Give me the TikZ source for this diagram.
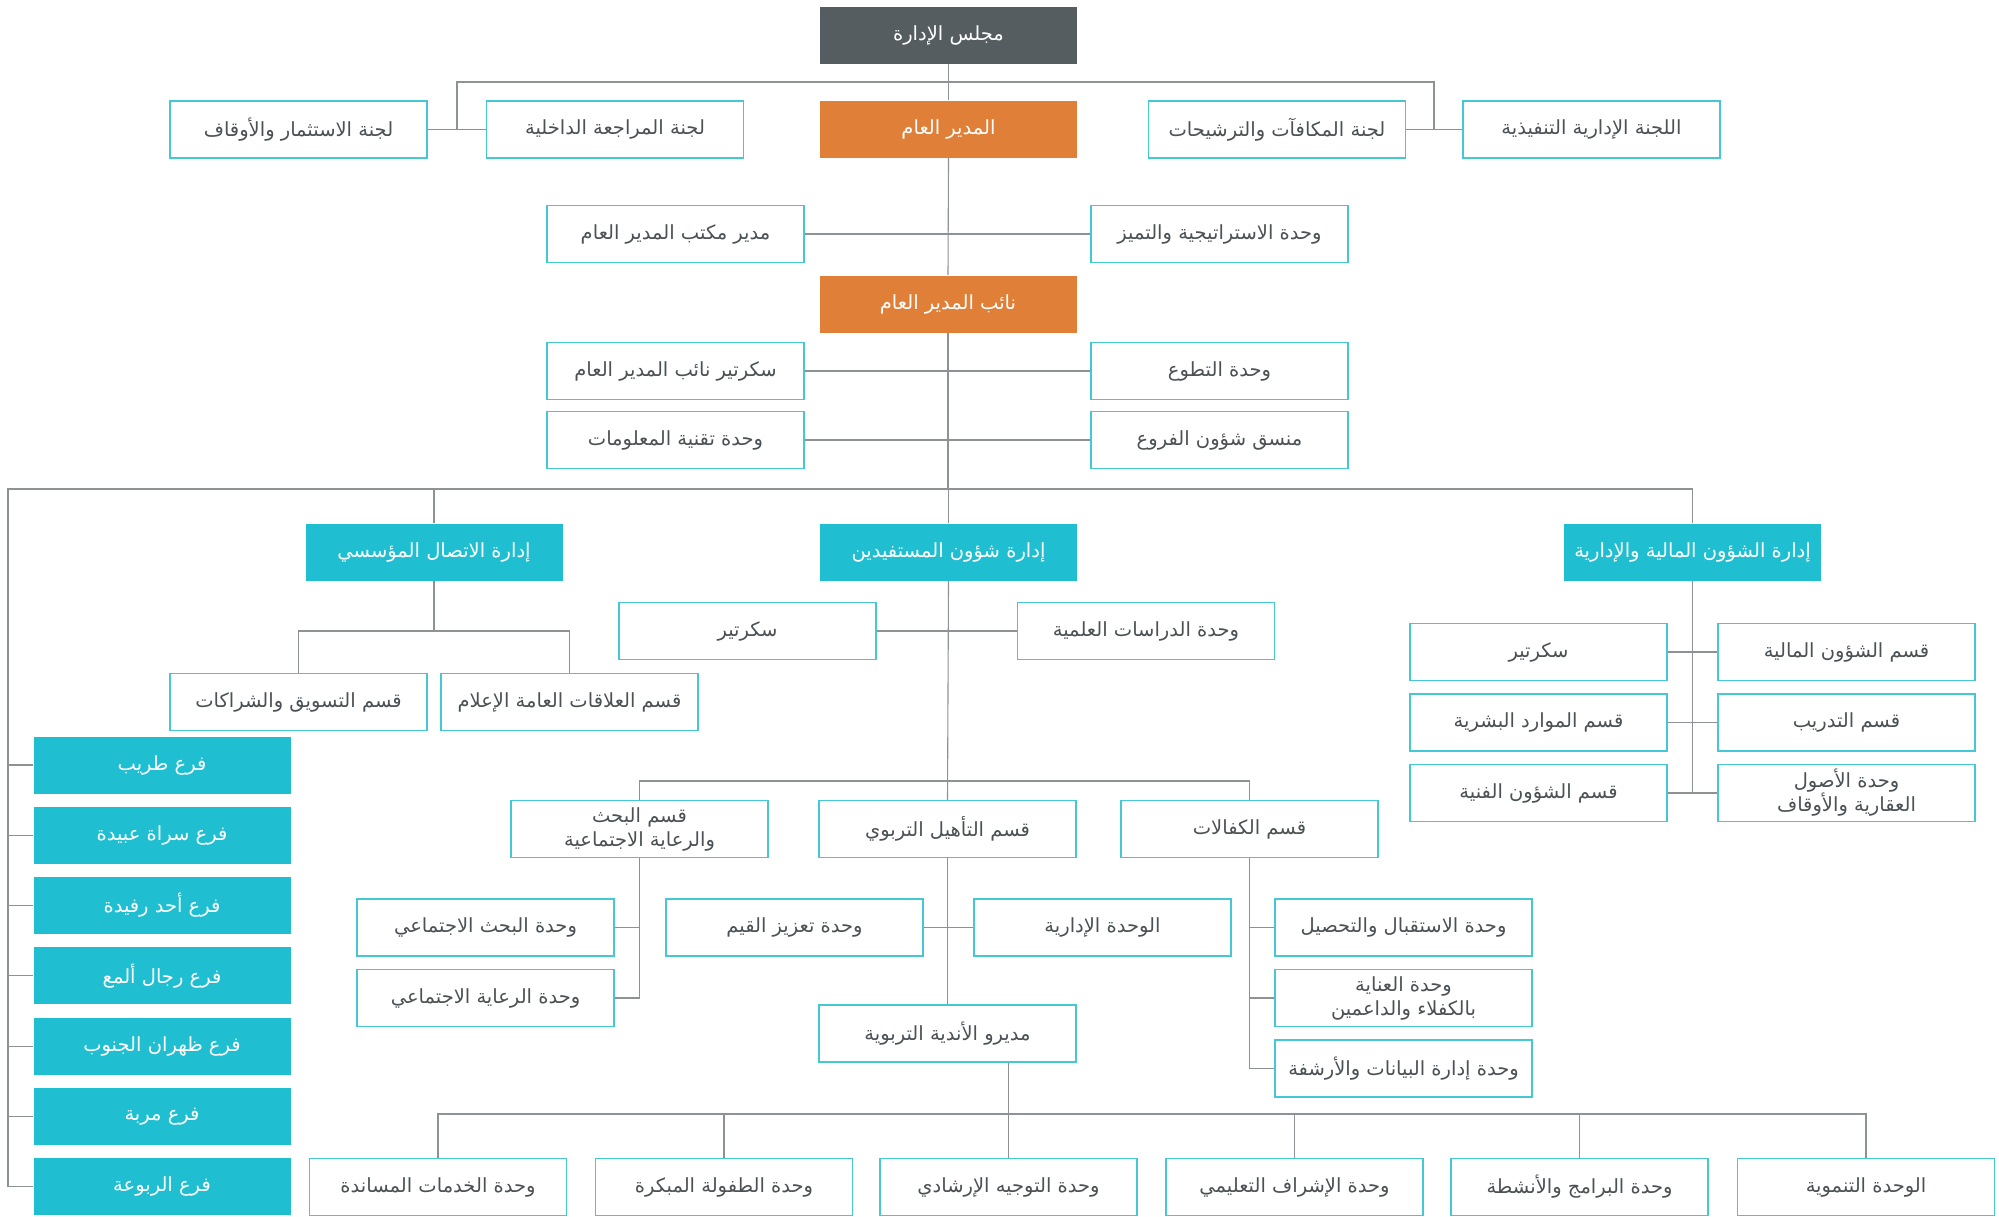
\documentclass[tikz,border=0pt]{standalone}
\usepackage{fontspec}
\usepackage{xcolor}
\usetikzlibrary{positioning,calc}
\TeXXeTstate=1
\newfontfamily\arabicfont[Script=Arabic]{DejaVu Sans}
\newcommand{\ar}[1]{{\arabicfont\beginR #1\endR}}
\definecolor{boardcolor}{HTML}{555D60}
\definecolor{gmcolor}{HTML}{E07F38}
\definecolor{deptcolor}{HTML}{1FBFD1}
\definecolor{unitborder}{HTML}{45C7D6}
\definecolor{textcolor}{HTML}{4B5154}
\definecolor{linkcolor}{HTML}{8C9295}

\begin{document}
\begin{tikzpicture}[x=1pt,y=-1pt,
    unit/.style={draw=unitborder, line width=1.3pt, fill=white, minimum width=257pt,
        minimum height=57pt, inner sep=2pt, text=textcolor,
        font=\fontsize{19.5}{24}\selectfont, align=center},
    head/.style={unit, draw=none, fill=#1, text=white},
    link/.style={draw=linkcolor, line width=1.1pt}]
    \useasboundingbox (0,0) rectangle (1999,1216);

    % Board and general manager
    \node[head=boardcolor] (board) at (948.5,35) {\ar{مجلس الإدارة}};
    \node[head=gmcolor] (gm) at (948.5,129) {\ar{المدير العام}};
    \node[unit] (inv) at (298.5,129.5) {\ar{لجنة الاستثمار والأوقاف}};
    \node[unit] (audit) at (615,129.5) {\ar{لجنة المراجعة الداخلية}};
    \node[unit] (rem) at (1277,129.5) {\ar{لجنة المكافآت والترشيحات}};
    \node[unit] (exec) at (1591.5,129.5) {\ar{اللجنة الإدارية التنفيذية}};
    \node[unit] (office) at (675.5,234) {\ar{مدير مكتب المدير العام}};
    \node[unit] (strategy) at (1219.5,234) {\ar{وحدة الاستراتيجية والتميز}};

    % Deputy
    \node[head=gmcolor] (deputy) at (948,304) {\ar{نائب المدير العام}};
    \node[unit] (secdep) at (675.5,371) {\ar{سكرتير نائب المدير العام}};
    \node[unit] (volunteer) at (1219.5,371) {\ar{وحدة التطوع}};
    \node[unit] (it) at (675.5,440) {\ar{وحدة تقنية المعلومات}};
    \node[unit] (coord) at (1219.5,440) {\ar{منسق شؤون الفروع}};

    % Departments
    \node[head=deptcolor] (comm) at (434,552) {\ar{إدارة الاتصال المؤسسي}};
    \node[head=deptcolor] (benef) at (948.5,552) {\ar{إدارة شؤون المستفيدين}};
    \node[head=deptcolor] (fin) at (1692.5,552) {\ar{إدارة الشؤون المالية والإدارية}};

    \node[unit] (mkt) at (298.5,702) {\ar{قسم التسويق والشراكات}};
    \node[unit] (pr) at (569.5,702) {\ar{قسم العلاقات العامة الإعلام}};

    \node[unit] (secb) at (747.5,631) {\ar{سكرتير}};
    \node[unit] (studies) at (1146,631) {\ar{وحدة الدراسات العلمية}};

    \node[unit] (fsec) at (1538.5,652) {\ar{سكرتير}};
    \node[unit] (fdept) at (1846.5,652) {\ar{قسم الشؤون المالية}};
    \node[unit] (hr) at (1538.5,722.5) {\ar{قسم الموارد البشرية}};
    \node[unit] (train) at (1846.5,722.5) {\ar{قسم التدريب}};
    \node[unit] (tech) at (1538.5,793) {\ar{قسم الشؤون الفنية}};
    \node[unit] (assets) at (1846.5,793) {\ar{وحدة الأصول}\\\ar{العقارية والأوقاف}};

    % Beneficiaries sections
    \node[unit] (research) at (639.5,829) {\ar{قسم البحث}\\\ar{والرعاية الاجتماعية}};
    \node[unit] (qual) at (947.5,829) {\ar{قسم التأهيل التربوي}};
    \node[unit] (kaf) at (1249.5,829) {\ar{قسم الكفالات}};

    \node[unit] (socres) at (485.5,927.5) {\ar{وحدة البحث الاجتماعي}};
    \node[unit] (socwel) at (485.5,998) {\ar{وحدة الرعاية الاجتماعي}};
    \node[unit] (values) at (794.5,927.5) {\ar{وحدة تعزيز القيم}};
    \node[unit] (admin) at (1102.5,927.5) {\ar{الوحدة الإدارية}};
    \node[unit] (recep) at (1403.5,927.5) {\ar{وحدة الاستقبال والتحصيل}};
    \node[unit] (care) at (1403.5,998) {\ar{وحدة العناية}\\\ar{بالكفلاء والداعمين}};
    \node[unit] (data) at (1403.5,1068.5) {\ar{وحدة إدارة البيانات والأرشفة}};
    \node[unit] (clubs) at (947.5,1033.5) {\ar{مديرو الأندية التربوية}};

    % Clubs units
    \node[unit] (support) at (438,1187) {\ar{وحدة الخدمات المساندة}};
    \node[unit] (early) at (724,1187) {\ar{وحدة الطفولة المبكرة}};
    \node[unit] (guide) at (1008.5,1187) {\ar{وحدة التوجيه الإرشادي}};
    \node[unit] (super) at (1294.5,1187) {\ar{وحدة الإشراف التعليمي}};
    \node[unit] (prog) at (1579.5,1187) {\ar{وحدة البرامج والأنشطة}};
    \node[unit] (dev) at (1866,1187) {\ar{الوحدة التنموية}};

    % Branches
    \foreach \name [count=\i] in {فرع طريب, فرع سراة عبيدة, فرع أحد رفيدة,
        فرع رجال ألمع, فرع ظهران الجنوب, فرع مربة, فرع الربوعة}
        \node[head=deptcolor] (br\i) at (162,{765+70.3*(\i-1)}) {\ar{\name}};

    % Connectors
    \coordinate (topL) at (457,82);
    \coordinate (topR) at (1434,82);
    \coordinate (lefttop) at (8,489);
    \coordinate (rightend) at (1692.5,489);
    \coordinate (commbar) at (434,631);
    \coordinate (benefbar) at (948,781);
    \coordinate (clubbar) at (1009,1114);

    \draw[link] (board.south) -- (gm.north);
    \draw[link] (topL |- inv.east) -- (topL) -- (topR) -- (topR |- rem.east);
    \draw[link] (inv.east) -- (audit.west);
    \draw[link] (rem.east) -- (exec.west);
    \draw[link] (gm.south) -- (deputy.north);
    \draw[link] (office.east) -- (strategy.west);
    \draw[link] (deputy.south) -- (deputy.south |- lefttop);
    \draw[link] (secdep.east) -- (volunteer.west);
    \draw[link] (it.east) -- (coord.west);

    \draw[link] (br7.west) -| (lefttop) -- (rightend) -- (fin.north);
    \foreach \i in {1,...,6}
        \draw[link] (lefttop |- br\i.west) -- (br\i.west);
    \draw[link] (comm.north |- lefttop) -- (comm.north);
    \draw[link] (benef.north |- lefttop) -- (benef.north);

    \draw[link] (comm.south) -- (commbar);
    \draw[link] (mkt.north) |- (commbar) -| (pr.north);

    \draw[link] (benef.south) -- (qual.north);
    \draw[link] (secb.east) -- (studies.west);
    \draw[link] (research.north) |- (benefbar) -| (kaf.north);

    \draw[link] (fin.south) -- (fin.south |- tech.east);
    \draw[link] (fsec.east) -- (fdept.west);
    \draw[link] (hr.east) -- (train.west);
    \draw[link] (tech.east) -- (assets.west);

    \draw[link] (research.south) |- (socwel.east);
    \draw[link] (research.south |- socres.east) -- (socres.east);
    \draw[link] (qual.south) -- (clubs.north);
    \draw[link] (values.east) -- (admin.west);
    \draw[link] (kaf.south) |- (data.west);
    \draw[link] (kaf.south |- recep.west) -- (recep.west);
    \draw[link] (kaf.south |- care.west) -- (care.west);

    \draw[link] (clubs.south -| guide.north) -- (guide.north);
    \draw[link] (support.north) |- (clubbar) -| (dev.north);
    \foreach \u in {early, super, prog}
        \draw[link] (\u.north |- clubbar) -- (\u.north);
\end{tikzpicture}
\end{document}
